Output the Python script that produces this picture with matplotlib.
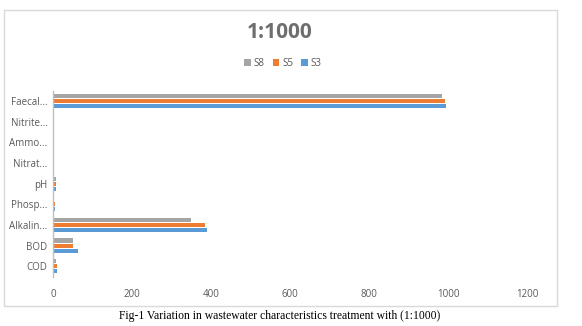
import matplotlib
matplotlib.use("Agg")
import matplotlib.pyplot as plt
import numpy as np
from matplotlib.patches import Rectangle

categories = ["COD", "BOD", "Alkalin...", "Phosp...", "pH", "Nitrat...", "Ammo...", "Nitrite...", "Faecal..."]
s3 = [11, 62, 390, 4, 7.8, 0.5, 0.5, 0.3, 995]
s5 = [9, 51, 384, 4, 7.5, 0.4, 0.4, 0.2, 992]
s8 = [8, 51, 349, 2, 7, 0.3, 0.3, 0.2, 984]
xticks = [0, 200, 400, 600, 800, 1000, 1200]

c3, c5, c8 = "#5B9BD5", "#ED7D31", "#A5A5A5"
txt = "#595959"
plt.rcParams['font.family'] = ['Open Sans', 'DejaVu Sans']

fig = plt.figure(figsize=(5.82, 3.26), dpi=100)
fig.patch.set_facecolor("white")
ax = fig.add_axes([53/582, 1-276.6/326, (527.5-53)/582, (276.6-90.7)/326])

y = np.arange(len(categories))
h = 0.2
off = 0.245
ax.barh(y - off, s3, height=h, color=c3, label="S3")
ax.barh(y, s5, height=h, color=c5, label="S5")
ax.barh(y + off, s8, height=h, color=c8, label="S8")

ax.set_ylim(-0.5, len(categories) - 0.5)
ax.set_xlim(0, 1200)
ax.set_yticks(y)
ax.set_yticklabels(categories)
ax.set_xticks(xticks)
ax.set_xticklabels([str(t) for t in xticks])
for s in ["top", "right", "bottom"]:
    ax.spines[s].set_visible(False)
ax.spines["left"].set_color("#BFBFBF")
ax.spines["left"].set_linewidth(1.0)
ax.tick_params(axis="both", length=0, labelsize=7, colors=txt, pad=4)
ax.tick_params(axis="x", pad=9)

handles, labels = ax.get_legend_handles_labels()
fig.legend(handles[::-1], labels[::-1], loc="center", bbox_to_anchor=(283/582, 1-63/326),
           ncol=3, frameon=False, fontsize=7, handlelength=0.7, handleheight=0.7,
           handletextpad=0.3, columnspacing=0.8, labelcolor=txt)

fig.text(280/582, 1-32.5/326, "1:1000", ha="center", va="center", fontsize=15,
         fontweight="bold", color="#6E6E6E")

fig.patches.append(Rectangle((4/582, 1-306/326), (557-4)/582, (306-10)/326,
                             transform=fig.transFigure, fill=False, edgecolor="#D9D9D9",
                             linewidth=1.0))

fig.text(280/582, 1-316/326, "Fig-1 Variation in wastewater characteristics treatment with (1:1000)",
         ha="center", va="center", fontsize=8.4, family=["Liberation Serif"], color="black")

fig.savefig("out.png", dpi=100, facecolor="white")
